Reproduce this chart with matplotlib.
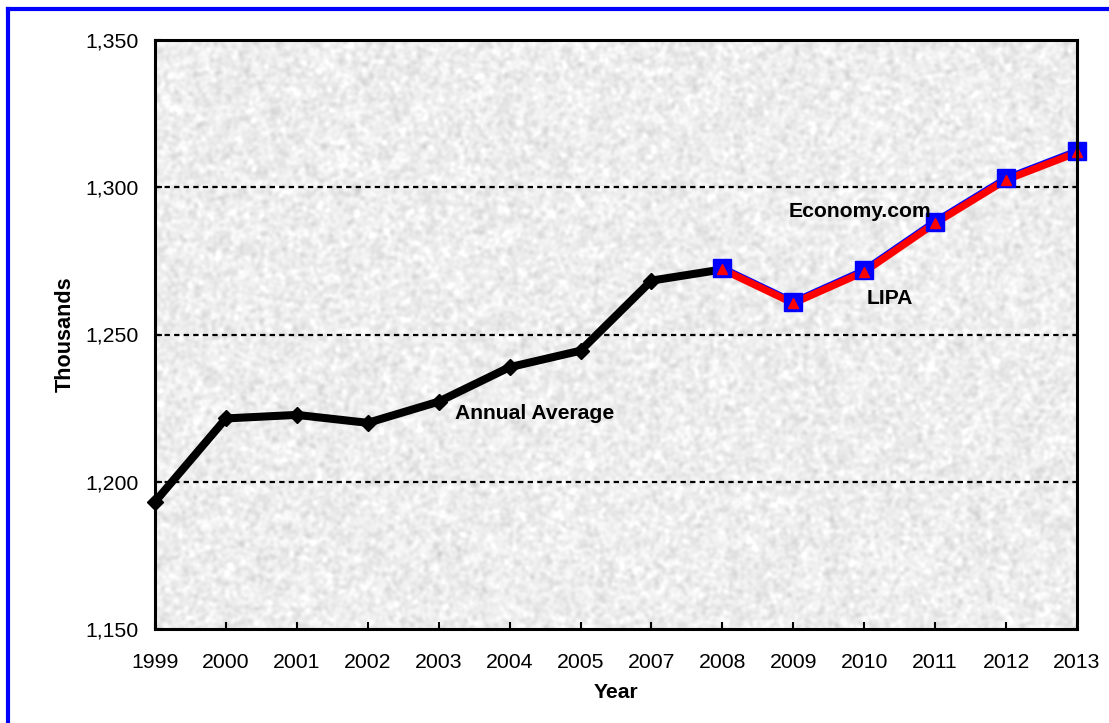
import numpy as np
import matplotlib
matplotlib.use("Agg")
import matplotlib.pyplot as plt
from matplotlib.lines import Line2D
from matplotlib.ticker import FuncFormatter

# ---- data -------------------------------------------------------------
years = ["1999", "2000", "2001", "2002", "2003", "2004", "2005",
         "2007", "2008", "2009", "2010", "2011", "2012", "2013"]

# historical annual average (1999 .. 2008)
annual_average = [1193.2, 1221.5, 1222.7, 1220.0, 1227.2, 1238.9,
                  1244.5, 1268.3, 1272.1]

# forecasts (2008 .. 2013)
lipa = [1272.1, 1260.6, 1271.3, 1287.8, 1302.5, 1311.8]
economy_com = [1272.5, 1261.0, 1271.8, 1288.3, 1303.0, 1312.3]

y_ticks = [1150, 1200, 1250, 1300, 1350]

# ---- figure -----------------------------------------------------------
W, H, DPI = 1109, 723, 100
plt.rcParams['font.family'] = ['Liberation Sans', 'DejaVu Sans']
fig = plt.figure(figsize=(W / DPI, H / DPI), dpi=DPI, facecolor='white')

ax_l, ax_r, ax_t, ax_b = 155, 1077, 40, 629
ax = fig.add_axes([ax_l / W, 1 - ax_b / H, (ax_r - ax_l) / W, (ax_b - ax_t) / H])

# granite-like texture for the plot area
rng = np.random.default_rng(7)
th, tw = ax_b - ax_t, ax_r - ax_l
noise = rng.standard_normal((th, tw))
fy = np.fft.fftfreq(th)[:, None]
fx = np.fft.fftfreq(tw)[None, :]
sigma = 1.8
kernel = np.exp(-2 * (np.pi ** 2) * (sigma ** 2) * (fx ** 2 + fy ** 2))
smooth = np.real(np.fft.ifft2(np.fft.fft2(noise) * kernel))
smooth /= smooth.std()
tex = np.clip(0.93 + 0.027 * smooth, 0.76, 1.0)
ax.imshow(tex, cmap='gray', vmin=0, vmax=1, extent=(0, 1, 0, 1),
          transform=ax.transAxes, aspect='auto', zorder=0,
          interpolation='bilinear')

x_all = np.arange(len(years))
x_hist = x_all[:len(annual_average)]
x_fc = x_all[len(annual_average) - 1:]

# dashed horizontal gridlines
for yv in y_ticks[1:-1]:
    ax.axhline(yv, color='black', lw=1.6, ls=(0, (2.4, 1.9)), zorder=1)

# historical series
ax.plot(x_hist, annual_average, color='black', lw=5.8, marker='D',
        markersize=8.5, markerfacecolor='black', markeredgecolor='black',
        zorder=3, clip_on=False, solid_joinstyle='miter')

# forecast series: lines first, then markers on top
ax.plot(x_fc, economy_com, color='#0000FF', lw=5.2, zorder=4, clip_on=False)
ax.plot(x_fc, lipa, color='#FF0000', lw=5.2, zorder=5, clip_on=False)
ax.plot(x_fc, economy_com, ls='none', marker='s', markersize=12.5,
        markerfacecolor='#0000FF', markeredgecolor='#0000FF',
        zorder=6, clip_on=False)
ax.plot(x_fc, lipa, ls='none', marker='^', markersize=7.5,
        markerfacecolor='#FF0000', markeredgecolor='#FF0000',
        zorder=7, clip_on=False)

# series labels
LBL = 15.2
ax.text(4.23, 1223.3, "Annual Average", fontsize=LBL, fontweight='bold',
        ha='left', va='center', zorder=8)
ax.text(8.94, 1291.7, "Economy.com", fontsize=LBL, fontweight='bold',
        ha='left', va='center', zorder=8)
ax.text(10.04, 1262.3, "LIPA", fontsize=LBL, fontweight='bold',
        ha='left', va='center', zorder=8)

# axes
TCK = 15.3
ax.set_xlim(0, len(years) - 1)
ax.set_ylim(y_ticks[0], y_ticks[-1])
ax.set_xticks(x_all)
ax.set_xticklabels(years)
ax.set_yticks(y_ticks)
ax.yaxis.set_major_formatter(FuncFormatter(lambda v, p: f"{int(v):,}"))
ax.tick_params(axis='x', direction='in', length=5, width=1.5, pad=17,
               labelsize=TCK)
ax.tick_params(axis='y', direction='in', length=5, width=1.5, pad=12,
               labelsize=TCK)
for s in ax.spines.values():
    s.set_linewidth(2.2)
    s.set_color('black')
    s.set_zorder(9)

ax.set_xlabel("Year", fontsize=LBL, fontweight='bold', labelpad=8)
ax.set_ylabel("Thousands", fontsize=15.6, fontweight='bold', labelpad=7)

# blue frame along the top and left edges of the figure
bx, by = 8 / W, 1 - 8.5 / H
fig.add_artist(Line2D([bx, bx], [0, by], transform=fig.transFigure,
                      color='#0000FF', lw=3, solid_capstyle='projecting'))
fig.add_artist(Line2D([bx, 1], [by, by], transform=fig.transFigure,
                      color='#0000FF', lw=3, solid_capstyle='projecting'))

fig.savefig("out.png", dpi=DPI, facecolor='white')
